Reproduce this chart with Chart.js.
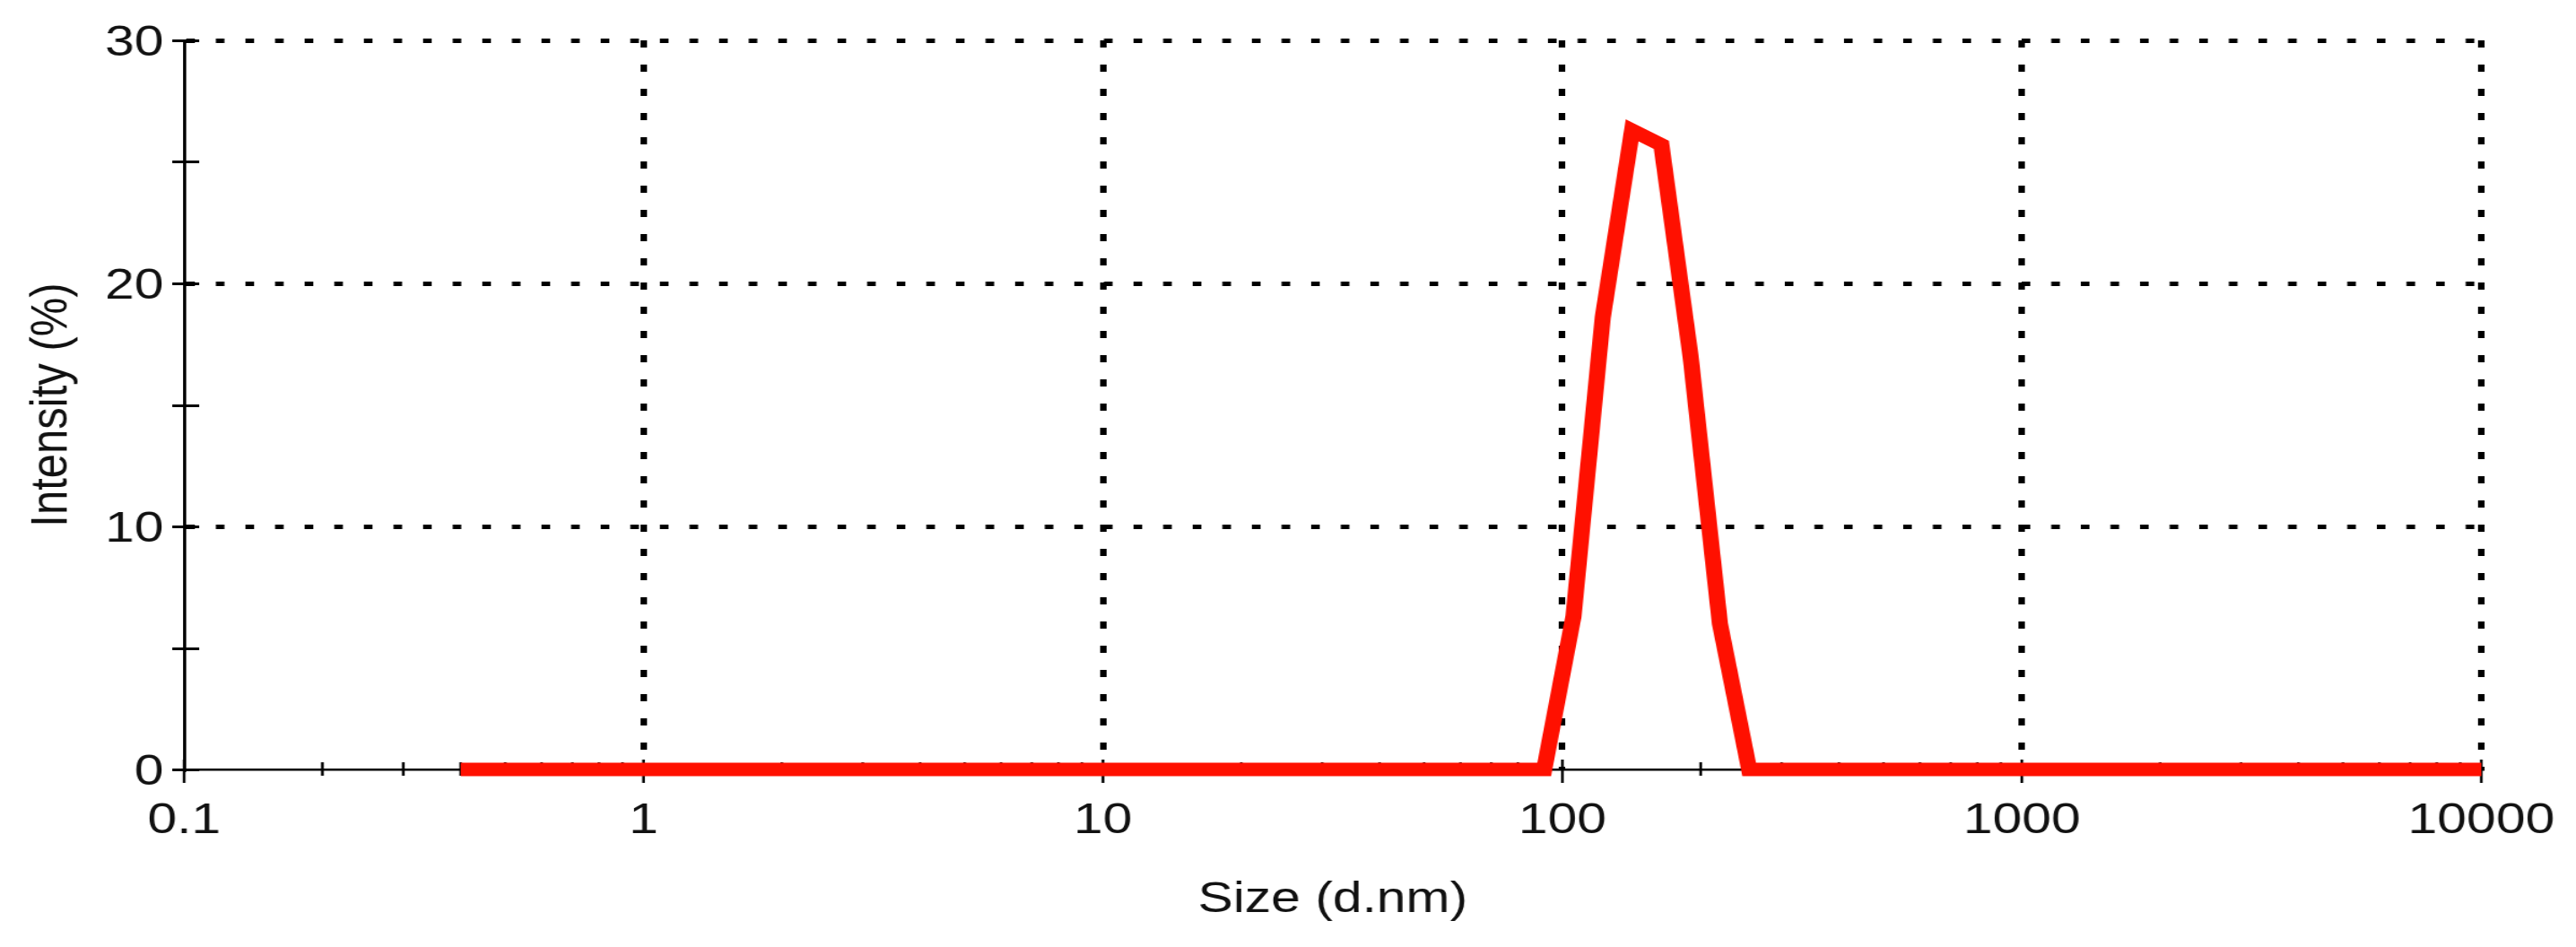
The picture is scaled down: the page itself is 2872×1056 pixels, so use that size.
<!DOCTYPE html>
<html lang="en">
<head>
<meta charset="UTF-8">
<title>Size Distribution by Intensity</title>
<script src="https://cdn.jsdelivr.net/npm/chart.js"></script>
<style>
  html, body { margin: 0; padding: 0; background: #fff; }
</style>
</head>
<body>
<!-- the original plot is drawn ~1.2x wider than tall, so the canvas is stretched sideways -->
<canvas id="dls" width="2393" height="1056" style="width:2872px;height:1056px;display:block"></canvas>
<script>
// size classes (d.nm)
const sizes = [
  0.4, 0.4632, 0.5365, 0.6213, 0.7195, 0.8332, 0.9649, 1.117, 1.294, 1.499,
  1.736, 2.01, 2.328, 2.696, 3.122, 3.615, 4.187, 4.849, 5.615, 6.503,
  7.531, 8.721, 10.1, 11.7, 13.54, 15.69, 18.17, 21.04, 24.36, 28.21,
  32.67, 37.84, 43.82, 50.75, 58.77, 68.06, 78.82, 91.28, 105.7, 122.4,
  141.8, 164.2, 190.1, 220.2, 255.0, 295.3, 342.0, 396.1, 458.7, 531.2,
  615.1, 712.4, 825.0, 955.4, 1106, 1281, 1484, 1718, 1990, 2305,
  2669, 3091, 3580, 4145, 4801, 5560, 6439, 7456, 8635, 10000
];
// intensity (%)
const intensity = [
  0, 0, 0, 0, 0, 0, 0, 0, 0, 0,
  0, 0, 0, 0, 0, 0, 0, 0, 0, 0,
  0, 0, 0, 0, 0, 0, 0, 0, 0, 0,
  0, 0, 0, 0, 0, 0, 0, 0, 6.3, 18.6,
  26.3, 25.7, 17.0, 6.0, 0, 0, 0, 0, 0, 0,
  0, 0, 0, 0, 0, 0, 0, 0, 0, 0,
  0, 0, 0, 0, 0, 0, 0, 0, 0, 0
];
const xTickLabels = [0.1, 1, 10, 100, 1000, 10000];
const yTickLabels = [0, 10, 20, 30];
const yMinorTicks = [5, 15, 25];

const FONT = "'Liberation Sans', Arial, sans-serif";
const INK = '#111';

// tick marks that cross the axis lines, majors and minors
const axisTicks = {
  id: 'axisTicks',
  beforeDatasetsDraw(chart) {
    const { ctx, chartArea: a, scales: { x, y } } = chart;
    ctx.save();
    ctx.strokeStyle = '#000';
    ctx.lineWidth = 2.5;
    ctx.beginPath();
    xTickLabels.forEach((v, i) => {
      const px = x.getPixelForValue(v);
      ctx.moveTo(px, a.bottom - 11);
      ctx.lineTo(px, a.bottom + 15);
      if (i < xTickLabels.length - 1) {
        for (let k = 2; k <= 9; k++) {
          const mx = x.getPixelForValue(v * k);
          ctx.moveTo(mx, a.bottom - 8);
          ctx.lineTo(mx, a.bottom + 7);
        }
      }
    });
    ctx.stroke();
    ctx.lineWidth = 3;
    ctx.beginPath();
    yTickLabels.concat(yMinorTicks).forEach(v => {
      const py = Math.round(y.getPixelForValue(v)) + 0.5;
      ctx.moveTo(a.left - 11, py);
      ctx.lineTo(a.left + 14, py);
    });
    ctx.stroke();
    ctx.restore();
  }
};

const canvas = document.getElementById('dls');
const chart = new Chart(canvas.getContext('2d'), {
  type: 'line',
  data: {
    datasets: [{
      label: 'Intensity',
      data: sizes.map((s, i) => ({ x: s, y: intensity[i] })),
      borderColor: '#ff1000',
      borderWidth: 15,
      pointRadius: 0,
      tension: 0,
      borderJoinStyle: 'miter',
      borderCapStyle: 'butt',
      fill: false,
      clip: false
    }]
  },
  options: {
    responsive: false,
    animation: false,
    devicePixelRatio: 1,
    layout: { padding: { top: 45, right: 88, left: 0, bottom: 0 } },
    plugins: {
      legend: { display: false },
      tooltip: { enabled: false }
    },
    scales: {
      x: {
        type: 'logarithmic',
        min: 0.1,
        max: 10000,
        afterBuildTicks: s => { s.ticks = xTickLabels.map(v => ({ value: v })); },
        afterFit: s => { s.height = 198; s.paddingLeft = 0; s.paddingRight = 0; },
        ticks: {
          callback: v => String(v),
          font: { family: FONT, size: 49 },
          color: INK,
          padding: 28,
          maxRotation: 0,
          autoSkip: false
        },
        grid: {
          color: c => (c.tick && c.tick.value === 0.1) ? 'rgba(0,0,0,0)' : '#000',
          lineWidth: 6,
          drawTicks: false
        },
        border: { display: true, color: '#000', width: 2.5, dash: [8, 19] },
        title: {
          display: true,
          text: 'Size (d.nm)',
          font: { family: FONT, size: 49 },
          color: INK,
          padding: { top: 0, bottom: 23 }
        }
      },
      y: {
        min: 0,
        max: 30,
        afterBuildTicks: s => { s.ticks = yTickLabels.map(v => ({ value: v })); },
        afterFit: s => { s.width = 171; s.paddingTop = 0; s.paddingBottom = 0; },
        ticks: {
          font: { family: FONT, size: 49 },
          color: INK,
          padding: 19,
          labelOffset: 3
        },
        grid: {
          color: c => (c.tick && c.tick.value === 0) ? 'rgba(0,0,0,0)' : '#000',
          lineWidth: 5,
          drawTicks: false
        },
        border: { display: true, color: '#000', width: 3, dash: [8, 19.5] },
        title: {
          display: true,
          text: 'Intensity (%)',
          font: { family: FONT, size: 49 },
          color: INK,
          padding: { top: 19, bottom: 0 }
        }
      }
    }
  },
  plugins: [axisTicks]
});
canvas.style.width = '2872px';
canvas.style.height = '1056px';
</script>
</body>
</html>
